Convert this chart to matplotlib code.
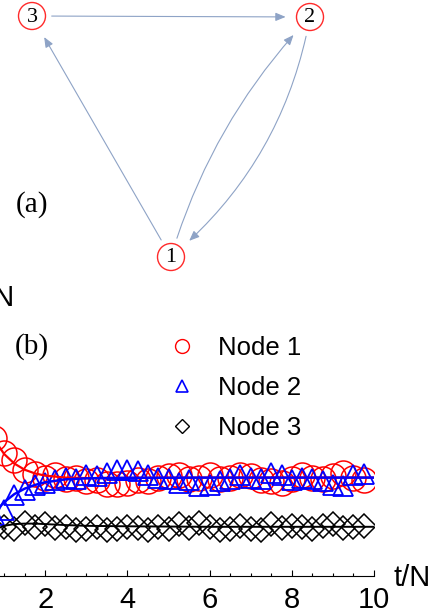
import numpy as np
import matplotlib
matplotlib.use("Agg")
import matplotlib.pyplot as plt
from matplotlib.patches import Circle, FancyArrowPatch
from matplotlib.lines import Line2D

# ---- data ----
# simulation points (t/N, n/N)
t_sim = [0.25 * k for k in range(40)]
node1_sim = [1.00, 0.79, 0.66, 0.56, 0.50, 0.47, 0.43, 0.415, 0.40, 0.41,
             0.395, 0.40, 0.385, 0.39, 0.375, 0.375, 0.38, 0.39, 0.385, 0.40,
             0.405, 0.41, 0.395, 0.40, 0.41, 0.395, 0.40, 0.41, 0.405, 0.39,
             0.385, 0.38, 0.395, 0.41, 0.40, 0.395, 0.405, 0.42, 0.40, 0.39]
node2_sim = [0.00, 0.11, 0.19, 0.25, 0.27, 0.33, 0.35, 0.37, 0.38, 0.39,
             0.40, 0.395, 0.41, 0.405, 0.42, 0.43, 0.43, 0.425, 0.41, 0.40,
             0.395, 0.38, 0.39, 0.365, 0.37, 0.385, 0.395, 0.41, 0.40, 0.395,
             0.42, 0.41, 0.39, 0.40, 0.395, 0.385, 0.37, 0.365, 0.41, 0.415]
node3_sim = [0.00, 0.10, 0.155, 0.19, 0.20, 0.19, 0.215, 0.20, 0.21, 0.195,
             0.20, 0.185, 0.19, 0.20, 0.185, 0.19, 0.20, 0.195, 0.185, 0.20,
             0.19, 0.21, 0.195, 0.215, 0.20, 0.185, 0.19, 0.205, 0.19, 0.185,
             0.21, 0.195, 0.205, 0.20, 0.19, 0.205, 0.21, 0.195, 0.20, 0.205]

# theory curves
t_th = [0, 0.25, 0.5, 0.75, 1.0, 1.25, 1.5, 1.75, 2.0, 2.5, 3.0, 4.0, 6.0, 8.0, 10.0]
node1_th = [1.0, 0.792, 0.651, 0.558, 0.496, 0.457, 0.432, 0.417, 0.408, 0.400, 0.398, 0.399, 0.4, 0.4, 0.4]
node2_th = [0.0, 0.110, 0.194, 0.255, 0.300, 0.333, 0.355, 0.370, 0.381, 0.393, 0.397, 0.399, 0.4, 0.4, 0.4]
node3_th = [0.0, 0.098, 0.155, 0.187, 0.204, 0.211, 0.213, 0.213, 0.211, 0.207, 0.204, 0.202, 0.2, 0.2, 0.2]

labels = ["Node 1", "Node 2", "Node 3"]
xticks = [2, 4, 6, 8, 10]

# network (a): node labels and edges (source, target, curvature)
node_names = ["1", "2", "3"]
edges = [("3", "2", 0.0), ("1", "3", 0.0), ("1", "2", -0.12), ("2", "1", -0.18)]

W, H = 436, 616
fig = plt.figure(figsize=(W / 100, H / 100), dpi=100)

sans = ["Liberation Sans", "DejaVu Sans"]
serif = ["Liberation Serif", "DejaVu Serif"]

# ---- panel (a): the graph, drawn in pixel coordinates ----
ax_a = fig.add_axes([0, 0, 1, 1])
ax_a.set_xlim(0, W)
ax_a.set_ylim(H, 0)
ax_a.axis("off")

pos = {"1": (171, 257), "2": (310, 17), "3": (32, 16)}
r = 13.5
for n in node_names:
    ax_a.add_patch(Circle(pos[n], r, facecolor="white", edgecolor="#ff2a2a", lw=1.0, zorder=3))
    ax_a.text(pos[n][0], pos[n][1] + 1, n, ha="center", va="center",
              family=serif, fontsize=16, zorder=4)

for s, d, rad in edges:
    (x1, y1), (x2, y2) = pos[s], pos[d]
    arr = FancyArrowPatch((x1, y1), (x2, y2), arrowstyle="-|>,head_length=6,head_width=2.5",
                          connectionstyle="arc3,rad=%g" % rad,
                          color="#8ea3c6", lw=0.8, shrinkA=r * 1.05, shrinkB=r * 1.3,
                          zorder=2)
    ax_a.add_patch(arr)

ax_a.text(32, 205, "(a)", ha="center", va="center", family=serif, fontsize=21)
ax_a.text(32, 347, "(b)", ha="center", va="center", family=serif, fontsize=21)

# ---- panel (b): time evolution ----
px_per_unit_x = 41.1
x0_px = -37
y0_px = 576
px_per_unit_y = 246
ymax = 1.2
ax = fig.add_axes([x0_px / W, (H - y0_px) / H, 10 * px_per_unit_x / W,
                   ymax * px_per_unit_y / H])
ax.patch.set_alpha(0)

ax.plot(t_sim, node1_sim, "o", mfc="none", mec="red", ms=18, mew=1.1, zorder=2)
ax.plot(t_sim, node2_sim, "^", mfc="none", mec="blue", ms=15, mew=1.3, zorder=3)
ax.plot(t_sim, node3_sim, "D", mfc="none", mec="black", ms=12, mew=1.1, zorder=2)
ax.plot(t_th, node1_th, "-", color="red", lw=1.6, zorder=4)
ax.plot(t_th, node2_th, "-", color="blue", lw=1.8, zorder=4)
ax.plot(t_th, node3_th, "-", color="black", lw=1.4, zorder=4)

ax.set_xlim(0, 10)
ax.set_ylim(0, ymax)
ax.set_xticks(xticks)
ax.set_xticklabels([str(v) for v in xticks])
ax.set_xticks(np.arange(0, 10.01, 0.5), minor=True)
ax.tick_params(axis="x", which="major", direction="in", length=4, width=0.8,
               labelsize=21, pad=7)
ax.tick_params(axis="x", which="minor", direction="in", length=2.5, width=0.8)
for lab in ax.get_xticklabels():
    lab.set_family(sans)
ax.tick_params(axis="y", left=False, labelleft=False)
for sp in ["top", "right", "left"]:
    ax.spines[sp].set_visible(False)
ax.spines["bottom"].set_linewidth(0.8)

fig.text(412 / W, 1 - 578 / H, "t/N", ha="center", va="center", family=sans, fontsize=21)
fig.text(14 / W, 1 - 298 / H, "n/N", ha="right", va="center", family=sans, fontsize=21)

handles = [
    Line2D([], [], ls="none", marker="o", mfc="none", mec="red", ms=10, mew=1.0),
    Line2D([], [], ls="none", marker="^", mfc="none", mec="blue", ms=8.5, mew=1.2),
    Line2D([], [], ls="none", marker="D", mfc="none", mec="black", ms=7, mew=1.0),
]
leg = fig.legend(handles, labels, loc="upper left", bbox_to_anchor=(143 / W, 1 - 313 / H),
                 frameon=False, handlelength=1.2, handletextpad=0.8, labelspacing=0.62,
                 prop={"family": sans, "size": 18.5})

fig.savefig("out.png", dpi=100)
